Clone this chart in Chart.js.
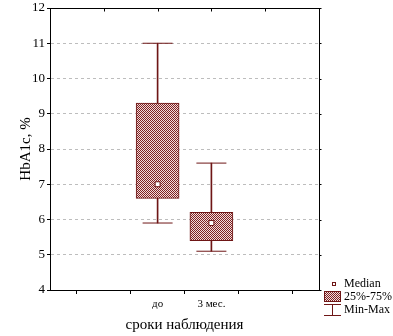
<!DOCTYPE html>
<html>
<head>
<meta charset="utf-8">
<script src="https://cdn.jsdelivr.net/npm/chart.js@4.4.0/dist/chart.umd.min.js"></script>
<style>
    html, body { margin: 0; padding: 0; background: #fff; overflow: hidden; }
    #wrap { width: 393px; height: 344px; margin-top: -8px; }
</style>
</head>
<body>
<div id="wrap"><canvas id="boxChart"></canvas></div>
<script>
// values
const categories = ['до', '3 мес.'];
const minValues = [5.9, 5.1];
const q1Values = [6.6, 5.4];
const medianValues = [7.0, 5.9];
const q3Values = [9.3, 6.2];
const maxValues = [11.0, 7.6];
const yTicks = [4, 5, 6, 7, 8, 9, 10, 11, 12];

const legendLabels = ['Median', '25%-75%', 'Min-Max'];

const darkRed = '#6e1616';
const serif = "'Liberation Serif', 'DejaVu Serif', serif";

// two empty slots on each side, like the original axis
const pad = [null, null];
const xLabels = ['', ''].concat(categories, ['', '']);
const padded = arr => pad.concat(arr, pad);

function makeHatch() {
    const c = document.createElement('canvas');
    c.width = 2;
    c.height = 2;
    const g = c.getContext('2d');
    g.fillStyle = '#f2dcdc';
    g.fillRect(0, 0, 2, 2);
    g.fillStyle = '#7e2222';
    g.fillRect(0, 0, 1, 1);
    g.fillRect(1, 1, 1, 1);
    return g.createPattern(c, 'repeat');
}
const hatch = makeHatch();

// closed frame with small ticks on the top and right sides too
const framePlugin = {
    id: 'frame',
    afterDraw(chart) {
        const a = chart.chartArea;
        const ctx = chart.ctx;
        const xs = chart.scales.x;
        const ys = chart.scales.y;
        ctx.save();
        ctx.strokeStyle = '#000';
        ctx.lineWidth = 1;
        const l = Math.round(a.left) + 0.5, t = Math.round(a.top) + 0.5;
        const r = Math.round(a.right) + 0.5, b = Math.round(a.bottom) + 0.5;
        ctx.strokeRect(l, t, r - l, b - t);
        ctx.beginPath();
        xLabels.forEach((_, i) => {
            const px = Math.round(xs.getPixelForTick(i)) + 0.5;
            ctx.moveTo(px, t);
            ctx.lineTo(px, t + 3);
        });
        yTicks.forEach(v => {
            const py = Math.round(ys.getPixelForValue(v)) + 0.5;
            ctx.moveTo(r, py);
            ctx.lineTo(r + 2, py);
        });
        ctx.stroke();
        ctx.restore();
    }
};

const legendPlugin = {
    id: 'boxLegend',
    afterDraw(chart) {
        const ctx = chart.ctx;
        const x0 = chart.chartArea.right + 5;
        const y0 = chart.chartArea.bottom - 6;
        ctx.save();
        ctx.font = '12px ' + serif;
        ctx.fillStyle = '#000';
        ctx.textBaseline = 'middle';
        legendLabels.forEach((txt, i) => {
            ctx.fillText(txt, x0 + 20, y0 + i * 13);
        });
        // median marker
        ctx.strokeStyle = darkRed;
        ctx.lineWidth = 1;
        ctx.fillStyle = '#fff';
        ctx.fillRect(x0 + 8, y0 - 2, 3, 3);
        ctx.strokeRect(x0 + 8.5, y0 - 1.5, 3, 3);
        // box swatch
        ctx.fillStyle = hatch;
        ctx.fillRect(x0, y0 + 7, 17, 11);
        ctx.strokeRect(x0 + 0.5, y0 + 7.5, 16, 10);
        // min-max swatch
        const y2 = y0 + 26;
        ctx.beginPath();
        ctx.moveTo(x0, y2 - 5.5); ctx.lineTo(x0 + 17, y2 - 5.5);
        ctx.moveTo(x0 + 8.5, y2 - 5.5); ctx.lineTo(x0 + 8.5, y2 + 5.5);
        ctx.moveTo(x0, y2 + 5.5); ctx.lineTo(x0 + 17, y2 + 5.5);
        ctx.stroke();
        ctx.restore();
    }
};

const whiskerData = padded(minValues.map((v, i) => [v, maxValues[i]]));
const boxData = padded(q1Values.map((v, i) => [v, q3Values[i]]));

const ctx = document.getElementById('boxChart').getContext('2d');
new Chart(ctx, {
    type: 'bar',
    data: {
        labels: xLabels,
        datasets: [
            {
                label: 'Min-Max',
                data: whiskerData,
                backgroundColor: darkRed,
                barThickness: 1,
                grouped: false,
                order: 3
            },
            {
                label: '25%-75%',
                data: boxData,
                backgroundColor: hatch,
                borderColor: darkRed,
                borderWidth: 1,
                borderSkipped: false,
                barThickness: 43,
                grouped: false,
                order: 2
            },
            {
                type: 'line',
                label: 'max',
                data: padded(maxValues),
                showLine: false,
                pointStyle: 'line',
                pointRadius: 15,
                borderColor: darkRed,
                borderWidth: 1,
                order: 1
            },
            {
                type: 'line',
                label: 'min',
                data: padded(minValues),
                showLine: false,
                pointStyle: 'line',
                pointRadius: 15,
                borderColor: darkRed,
                borderWidth: 1,
                order: 1
            },
            {
                type: 'line',
                label: 'Median',
                data: padded(medianValues),
                showLine: false,
                pointStyle: 'rect',
                pointRadius: 3.5,
                backgroundColor: '#fff',
                borderColor: darkRed,
                borderWidth: 1,
                order: 0
            }
        ]
    },
    options: {
        responsive: true,
        maintainAspectRatio: false,
        animation: false,
        events: [],
        layout: { padding: { top: 8, right: 74, left: 0, bottom: 0 } },
        plugins: {
            legend: { display: false },
            tooltip: { enabled: false }
        },
        scales: {
            x: {
                type: 'category',
                offset: false,
                grid: {
                    drawOnChartArea: false,
                    drawTicks: true,
                    tickLength: 4,
                    tickColor: '#000'
                },
                border: { color: '#000' },
                ticks: {
                    autoSkip: false,
                    maxRotation: 0,
                    color: '#000',
                    padding: 4,
                    font: { family: serif, size: 11 }
                },
                title: {
                    display: true,
                    text: 'сроки наблюдения',
                    color: '#000',
                    font: { family: serif, size: 15 },
                    padding: { top: 2, bottom: 2 }
                },
                afterFit: s => { s.height = 46; }
            },
            y: {
                min: 4,
                max: 12,
                afterBuildTicks: s => { s.ticks = yTicks.map(v => ({ value: v })); },
                grid: {
                    color: c => (c.tick && (c.tick.value === 4 || c.tick.value === 12)) ? 'rgba(0,0,0,0)' : '#bdbdbd',
                    tickColor: '#000',
                    tickLength: 3
                },
                border: { color: '#000', dash: [3, 3] },
                ticks: {
                    color: '#000',
                    padding: 2,
                    font: { family: serif, size: 13 }
                },
                title: {
                    display: true,
                    text: 'HbA1c, %',
                    color: '#000',
                    font: { family: serif, size: 15 },
                    padding: { top: 17, bottom: 0 }
                },
                afterFit: s => { s.width = 50; }
            }
        }
    },
    plugins: [framePlugin, legendPlugin]
});
</script>
</body>
</html>
